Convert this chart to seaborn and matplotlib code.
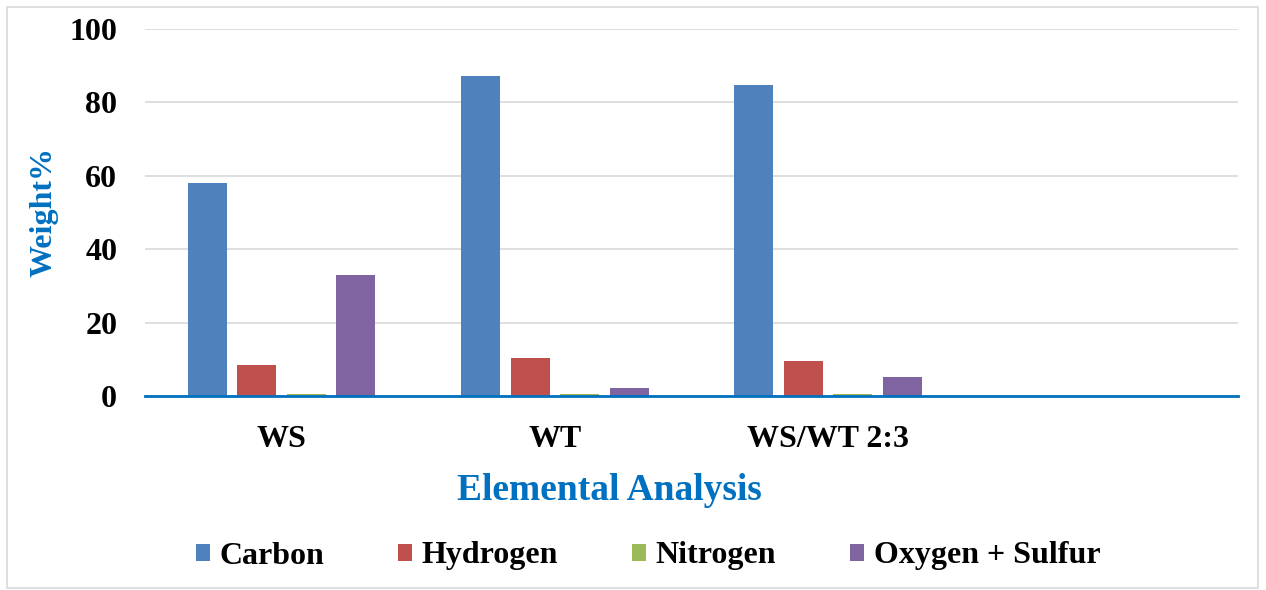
import matplotlib
matplotlib.use("Agg")
import matplotlib.pyplot as plt
import seaborn as sns
import pandas as pd
from matplotlib.patches import Patch, Rectangle

samples = ["WS", "WT", "WS/WT 2:3"]
elements = ["Carbon", "Hydrogen", "Nitrogen", "Oxygen + Sulfur"]
carbon = [58.0, 87.2, 84.7]
hydrogen = [8.4, 10.3, 9.5]
nitrogen = [0.5, 0.5, 0.5]
oxy_sulfur = [33.0, 2.1, 5.2]
colors = ["#4F81BD", "#C0504D", "#9BBB59", "#8064A2"]

rows = []
for el, vals in zip(elements, [carbon, hydrogen, nitrogen, oxy_sulfur]):
    for s, v in zip(samples, vals):
        rows.append({"Sample": s, "Element": el, "Weight": v})
df = pd.DataFrame(rows)

sns.set_theme(style="white")
plt.rcParams["font.family"] = ["Liberation Serif", "DejaVu Serif"]
plt.rcParams["font.weight"] = "bold"
plt.rcParams["text.color"] = "black"

fig = plt.figure(figsize=(12.66, 5.9), dpi=100)
ax = fig.add_axes([145/1266, 1-396/590, (1238-145)/1266, (396-29)/590])

sns.barplot(data=df, x="Sample", y="Weight", hue="Element", order=samples + [" "],
            hue_order=elements, palette=colors, width=0.725, gap=0.21,
            ax=ax, legend=False, saturation=1, edgecolor="none")

ax.set_xlim(-0.5, 3.5)
ax.set_ylim(0, 100)
ax.set_yticks([0, 20, 40, 60, 80, 100])
ax.yaxis.grid(True, color="#D9D9D9", linewidth=1.2)
ax.set_axisbelow(True)
for sp in ["top", "right", "left"]:
    ax.spines[sp].set_visible(False)
ax.spines["bottom"].set_color("#0070C0")
ax.spines["bottom"].set_linewidth(2)
ax.spines["bottom"].set_zorder(5)
ax.set_xticks([0, 1, 2, 3])
ax.set_xticklabels(samples + [""])
ax.tick_params(axis="y", length=0, pad=20, labelsize=23, labelcolor="black")
ax.tick_params(axis="x", length=0, pad=21, labelsize=23, labelcolor="black")
for lbl in ax.get_xticklabels() + ax.get_yticklabels():
    lbl.set_fontweight("bold")
ax.set_xlabel("")
ax.set_ylabel("")

fig.text(44/1266, 1-212/590, "Weight%", rotation=90, ha="center", va="center",
         color="#0070C0", fontsize=23, fontweight="bold")
fig.text(609/1266, 1-491/590, "Elemental Analysis", ha="center", va="center",
         color="#0070C0", fontsize=27, fontweight="bold")

handles = [Patch(facecolor=c, edgecolor="none", label=e) for c, e in zip(colors, elements)]
leg = fig.legend(handles=handles, loc="center", bbox_to_anchor=(648/1266, 1-556/590), ncol=4,
                 frameon=False, handlelength=0.45, handleheight=0.45,
                 handletextpad=0.3, columnspacing=2.3, prop={"weight": "bold", "size": 23})
for t in leg.get_texts():
    t.set_color("black")

fig.patches.append(Rectangle((7/1266, 2/590), 1251/1266, 581/590, transform=fig.transFigure,
                             fill=False, edgecolor="#D9D9D9", linewidth=1.2))

fig.savefig("out.png", dpi=100)
